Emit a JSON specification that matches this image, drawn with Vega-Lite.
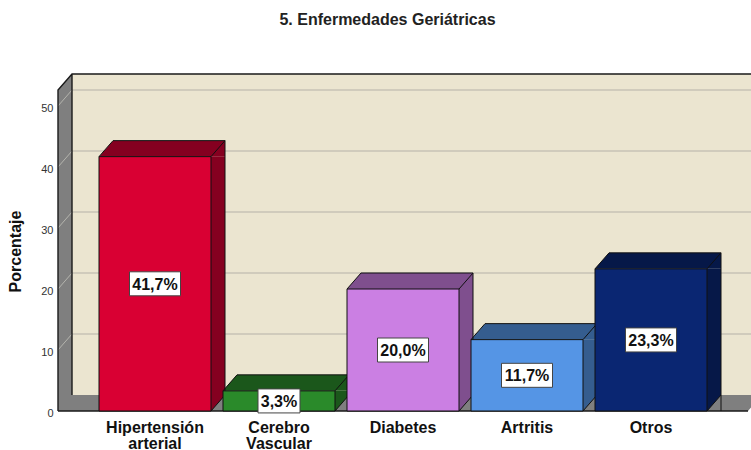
{
"$schema":"https://vega.github.io/schema/vega-lite/v6.json",
"width":693,"height":337,
"autosize":"none",
"padding":{"left":58,"top":74,"right":0,"bottom":39},
"background":"white",
"config":{"view":{"stroke":null},"font":"Liberation Sans"},
"title":{"text":"5. Enfermedades Geriátricas","font":"Liberation Sans","fontSize":16,"fontWeight":"bold","color":"#222222","anchor":"middle","dx":-17,"offset":43},
"resolve":{"axis":{"x":"independent","y":"independent"}},
"datasets":{
 "bars":[
  {"c":"Hipertensión arterial","v":41.7,"t":"41,7%"},
  {"c":"Cerebro Vascular","v":3.3,"t":"3,3%"},
  {"c":"Diabetes","v":20.0,"t":"20,0%"},
  {"c":"Artritis","v":11.7,"t":"11,7%"},
  {"c":"Otros","v":23.3,"t":"23,3%"}
 ],
 "frame":[{"base":0}],
 "grid":[{"g":10},{"g":20},{"g":30},{"g":40},{"g":50}]
},
"layer":[
 {"data":{"name":"frame"},
  "mark":{"type":"point","shape":"M14,-337H693V-16H14Z","size":4,"filled":true,"fill":"#EBE5D0","opacity":1,"strokeWidth":0},
  "encoding":{"x":{"value":0},"y":{"field":"base","type":"quantitative","scale":{"domain":[0,55.246],"nice":false,"zero":false},
    "axis":{"title":"Porcentaje","values":[0,10,20,30,40,50],"grid":false,"ticks":false,"domain":false,"labelFont":"Liberation Sans","labelFontSize":11,"labelColor":"#333333","labelPadding":5,"labelOffset":2.5,"titleFont":"Liberation Sans","titleFontSize":16,"titleFontWeight":"bold","titleColor":"#111111","titleX":-35,"titleY":177}}}},
 {"data":{"name":"grid"},
  "mark":{"type":"rule","yOffset":-16,"stroke":"#D0CBBC","strokeWidth":2},
  "encoding":{"y":{"field":"g","type":"quantitative","axis":null}}},
 {"data":{"name":"frame"},
  "mark":{"type":"point","shape":"M0,0L14,-16V-337L0,-321ZM0,0L14,-16H704L690,0Z","size":4,"filled":true,"fill":"#7F7F7F","opacity":1,"strokeWidth":0},
  "encoding":{"x":{"value":0},"y":{"field":"base","type":"quantitative","axis":null}}},
 {"data":{"name":"grid"},
  "mark":{"type":"point","shape":"M0,0L14,-16","size":4,"filled":false,"stroke":"#B5B5AE","opacity":1,"strokeWidth":1},
  "encoding":{"x":{"value":0},"y":{"field":"g","type":"quantitative","axis":null}}},
 {"data":{"name":"frame"},
  "mark":{"type":"point","shape":"M0,0V-321L14,-337H693M14,-337V-16M0,0H690","size":4,"filled":false,"stroke":"#1A1A1A","opacity":1,"strokeWidth":1.4},
  "encoding":{"x":{"value":0},"y":{"field":"base","type":"quantitative","axis":null}}},
 {"data":{"name":"bars"},
  "mark":{"type":"bar","width":14,"xOffset":63,"strokeWidth":0},
  "encoding":{
   "x":{"field":"c","type":"nominal","sort":null,"scale":{"range":[35,655],"paddingInner":0.0968,"paddingOuter":0.0484},
     "axis":{"title":null,"ticks":false,"domain":false,"labelAngle":0,"labelAlign":"center","labelBaseline":"top","labelFont":"Liberation Sans","labelFontSize":16,"labelFontWeight":"bold","labelColor":"#111111","labelPadding":8,"labelLineHeight":16,"labelLimit":300,"labelOverlap":false,"labelExpr":"split(datum.label,' ')"}},
   "y":{"field":"v","type":"quantitative","axis":null},
   "y2":{"datum":2.623},
   "fill":{"field":"c","type":"nominal","sort":null,"legend":null,"scale":{"domain":["Hipertensión arterial","Cerebro Vascular","Diabetes","Artritis","Otros"],"range":["#850020","#1B571B","#7F4F8E","#355D8F","#061848"]}}
  }},
 {"data":{"name":"bars"},
  "mark":{"type":"point","shape":"M-56,0L-42,-16H70V0H56Z","size":4,"filled":true,"opacity":1,"strokeWidth":0},
  "encoding":{"x":{"field":"c","type":"nominal","sort":null,"axis":null},"y":{"field":"v","type":"quantitative","axis":null},
   "fill":{"field":"c","type":"nominal","sort":null,"legend":null}}},
 {"data":{"name":"bars"},
  "mark":{"type":"point","shape":"M56,0V-16H70Z","size":4,"filled":true,"opacity":1,"strokeWidth":0},
  "encoding":{"x":{"field":"c","type":"nominal","sort":null,"axis":null},"y":{"datum":0,"type":"quantitative","axis":null},
   "fill":{"field":"c","type":"nominal","sort":null,"legend":null}}},
 {"data":{"name":"bars"},
  "mark":{"type":"rule","xOffset":70,"yOffset":-16,"stroke":"#111111","strokeWidth":1},
  "encoding":{"x":{"field":"c","type":"nominal","sort":null,"axis":null},"y":{"field":"v","type":"quantitative","axis":null},"y2":{"datum":0}}},
 {"data":{"name":"bars"},
  "mark":{"type":"point","shape":"M-56,0L-42,-16H70M56,0L70,-16","size":4,"filled":false,"stroke":"#111111","opacity":1,"strokeWidth":1},
  "encoding":{"x":{"field":"c","type":"nominal","sort":null,"axis":null},"y":{"field":"v","type":"quantitative","axis":null}}},
 {"data":{"name":"bars"},
  "mark":{"type":"point","shape":"M56,0L70,-16","size":4,"filled":false,"stroke":"#111111","opacity":1,"strokeWidth":1},
  "encoding":{"x":{"field":"c","type":"nominal","sort":null,"axis":null},"y":{"datum":0,"type":"quantitative","axis":null}}},
 {"data":{"name":"bars"},
  "mark":{"type":"bar","width":112,"stroke":"#111111","strokeWidth":1},
  "encoding":{"x":{"field":"c","type":"nominal","sort":null,"axis":null},"y":{"field":"v","type":"quantitative","axis":null},
   "color":{"field":"c","type":"nominal","sort":null,"legend":null,"scale":{"domain":["Hipertensión arterial","Cerebro Vascular","Diabetes","Artritis","Otros"],"range":["#D90033","#2A8A2A","#CB7FE3","#5595E5","#0A2672"]}}}},
 {"data":{"name":"bars"},
  "transform":[{"calculate":"datum.v/2","as":"mid"}],
  "mark":{"type":"point","size":4,"filled":true,"fill":"white","stroke":"#444444","strokeWidth":1,"opacity":1},
  "encoding":{"x":{"field":"c","type":"nominal","sort":null,"axis":null},"y":{"field":"mid","type":"quantitative","axis":null},
   "shape":{"condition":{"test":"datum.v<5","value":"M-21,-12H21V12H-21Z"},"value":"M-25.5,-12H25.5V12H-25.5Z"}}},
 {"data":{"name":"bars"},
  "transform":[{"calculate":"datum.v/2","as":"mid"}],
  "mark":{"type":"text","font":"Liberation Sans","fontSize":16,"fontWeight":"bold","color":"#111111","baseline":"middle","align":"center","dy":1},
  "encoding":{"x":{"field":"c","type":"nominal","sort":null,"axis":null},"y":{"field":"mid","type":"quantitative","axis":null},"text":{"field":"t","type":"nominal"}}}
]
}
